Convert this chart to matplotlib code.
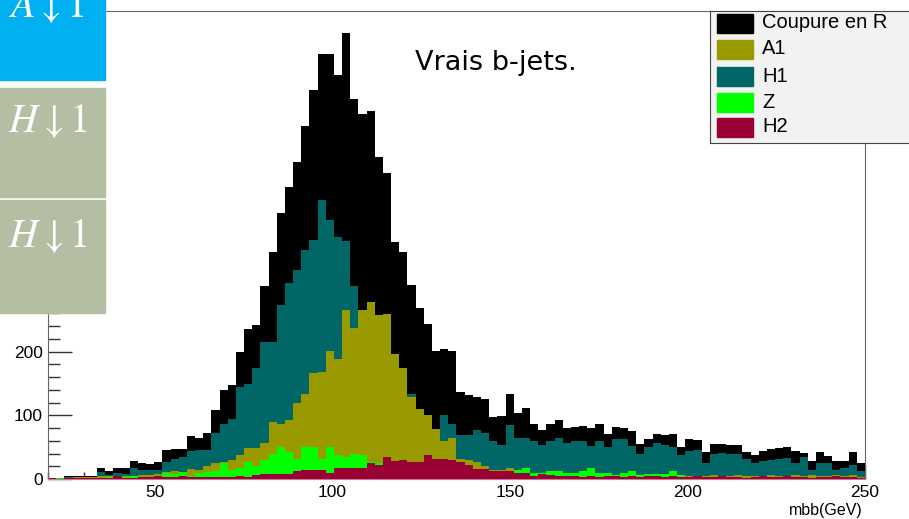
import numpy as np
import matplotlib
matplotlib.use("Agg")
import matplotlib.pyplot as plt
from matplotlib.patches import Rectangle
from matplotlib.ticker import FuncFormatter

plt.rcParams['mathtext.fontset'] = 'stix'

# mbb histograms, 100 bins from 20 to 250 GeV
edges = np.linspace(20, 250, 101)

coupure_r = [2, 2, 5, 5, 5, 5, 17, 13, 17, 17,
             29, 25, 24, 27, 46, 47, 47, 67, 65, 73,
             108, 140, 148, 200, 235, 242, 303, 356, 417, 458,
             498, 555, 611, 668, 668, 634, 700, 597, 574, 578,
             506, 481, 372, 357, 304, 268, 243, 201, 204, 201,
             136, 132, 129, 126, 98, 99, 133, 103, 111, 87,
             77, 87, 93, 80, 82, 83, 80, 86, 70, 81,
             80, 76, 55, 63, 70, 69, 71, 51, 63, 61,
             42, 55, 55, 54, 53, 43, 38, 44, 47, 48,
             50, 44, 41, 29, 42, 36, 29, 29, 42, 25]

h1 = [1, 1, 3, 3, 3, 3, 11, 6, 10, 8,
      17, 14, 14, 14, 26, 31, 35, 44, 46, 45,
      72, 86, 95, 145, 149, 175, 215, 215, 273, 308,
      328, 359, 376, 438, 407, 380, 374, 303, 250, 240,
      225, 200, 180, 160, 133, 105, 95, 75, 100, 86,
      69, 69, 77, 72, 60, 53, 85, 65, 64, 59,
      53, 60, 65, 56, 60, 59, 52, 59, 51, 63,
      63, 52, 40, 51, 56, 53, 51, 38, 44, 46,
      25, 40, 41, 39, 40, 32, 25, 29, 30, 32,
      33, 25, 35, 14, 25, 25, 14, 17, 22, 13]

a1 = [1, 1, 2, 3, 3, 3, 4, 4, 5, 5,
      5, 6, 6, 8, 11, 12, 10, 15, 14, 21,
      25, 27, 30, 38, 49, 48, 56, 90, 86, 92,
      120, 134, 166, 168, 201, 189, 265, 237, 265, 278,
      257, 259, 197, 175, 129, 110, 100, 78, 59, 64,
      32, 30, 27, 20, 14, 14, 18, 13, 10, 6,
      5, 4, 4, 5, 4, 4, 3, 4, 4, 4,
      5, 4, 4, 3, 4, 4, 5, 4, 4, 5,
      5, 6, 5, 5, 6, 4, 5, 5, 6, 5,
      5, 6, 4, 6, 5, 5, 6, 5, 6, 3]

z = [1, 1, 1, 2, 2, 2, 2, 3, 2, 3,
     4, 3, 3, 4, 9, 8, 11, 5, 9, 11,
     12, 25, 14, 17, 27, 20, 30, 40, 51, 43,
     31, 50, 50, 31, 51, 38, 35, 40, 38, 27,
     25, 10, 9, 9, 8, 8, 9, 8, 8, 7,
     7, 6, 6, 6, 5, 5, 6, 14, 18, 10,
     10, 13, 12, 10, 10, 12, 17, 10, 9, 6,
     9, 13, 6, 8, 8, 8, 13, 6, 3, 3,
     3, 3, 2, 3, 2, 2, 3, 2, 2, 3,
     2, 2, 2, 2, 3, 2, 2, 2, 2, 2]

h2 = [1, 0, 1, 1, 2, 2, 2, 1, 4, 2,
      2, 3, 3, 4, 3, 3, 4, 3, 3, 3,
      3, 3, 3, 4, 3, 6, 8, 8, 8, 8,
      12, 14, 14, 14, 10, 17, 17, 17, 17, 25,
      22, 35, 28, 30, 27, 26, 38, 31, 31, 30,
      26, 22, 16, 16, 13, 12, 13, 9, 9, 5,
      8, 7, 4, 4, 4, 3, 4, 3, 5, 4,
      3, 5, 3, 4, 4, 3, 4, 3, 3, 5,
      3, 3, 4, 3, 3, 2, 3, 5, 3, 3,
      4, 3, 3, 2, 3, 3, 4, 3, 3, 2]

labels = ["Coupure en R", "A1", "H1", "Z", "H2"]
colors = {"Coupure en R": "#000000", "A1": "#999900", "H1": "#006666",
          "Z": "#00ff00", "H2": "#990033"}

W, H = 909, 519
fig = plt.figure(figsize=(W / 100, H / 100), dpi=100)

# main pad (pixel box 48..865 x 11..479)
ax = fig.add_axes([48 / W, 1 - 479 / H, 817 / W, 468 / H])
ax.set_axisbelow(True)

# overlaid, drawn back to front
for name, vals in [("Coupure en R", coupure_r), ("H1", h1), ("A1", a1),
                   ("Z", z), ("H2", h2)]:
    ax.stairs(vals, edges, fill=True, color=colors[name], linewidth=0)

ax.set_xlim(20, 250)
ax.set_ylim(0, 735)
ax.set_xticks([50, 100, 150, 200, 250])
ax.set_xticks(np.arange(20, 251, 10), minor=True)
ax.set_yticks(np.arange(0, 701, 100))
ax.set_yticks(np.arange(0, 735, 20), minor=True)
# upper labels sit under the slide tiles, leave them blank
ax.yaxis.set_major_formatter(FuncFormatter(lambda v, p: f"{v:.0f}" if v < 250 else ""))
ax.tick_params(axis='y', which='major', direction='in', length=17.3, width=1,
               color='#333333', pad=3.6, labelsize=12.5)
ax.tick_params(axis='y', which='minor', direction='in', length=8.6, width=1,
               color='#333333')
ax.tick_params(axis='x', which='major', direction='in', length=10, width=1,
               color='#333333', pad=4.3, labelsize=12.5)
ax.tick_params(axis='x', which='minor', direction='in', length=5, width=1,
               color='#333333')
for lab in ax.get_xticklabels() + ax.get_yticklabels():
    lab.set_fontfamily('Liberation Sans')
for side in ['left', 'top', 'right']:
    ax.spines[side].set_color('#666666')
ax.spines['bottom'].set_color('#c87a95')

fig.text(863 / W, 1 - 510 / H, "mbb(GeV)", ha='right', va='center',
         fontsize=11.5, family='Liberation Sans')
fig.text(415 / W, 1 - 70 / H, "Vrais b-jets.", ha='left', va='baseline',
         fontsize=19.5, family='DejaVu Sans')

# legend box
lg = fig.add_axes([710 / W, 1 - 143 / H, 220 / W, 132 / H])
lg.set_xlim(710, 930)
lg.set_ylim(143, 11)
lg.set_facecolor('#f2f2f2')
lg.set_xticks([])
lg.set_yticks([])
for s in lg.spines.values():
    s.set_color('#444444')
rows = [23, 49, 76, 102, 127]
for name, yc in zip(labels, rows):
    lg.add_patch(Rectangle((717, yc - 9.5), 36, 19, color=colors[name]))
    lg.text(762, yc, name, va='center', ha='left', fontsize=14.5,
            family='Liberation Sans')

# slide tiles over the upper left corner
tiles = fig.add_axes([0, 0, 1, 1], facecolor='none')
tiles.set_xlim(0, W)
tiles.set_ylim(H, 0)
tiles.axis('off')
tiles.add_patch(Rectangle((0, 0), 104.5, 313, color='white'))
tiles.add_patch(Rectangle((0, -30), 104.5, 110, color='#00b0f0'))
tiles.add_patch(Rectangle((0, 88), 104.5, 109, color='#b3bea2'))
tiles.add_patch(Rectangle((0, 200), 104.5, 113, color='#b3bea2'))
tiles.text(8, 17, r'$A{\downarrow}1$', color='white', fontsize=29, va='baseline')
tiles.text(8, 132, r'$H{\downarrow}1$', color='white', fontsize=29, va='baseline')
tiles.text(8, 247, r'$H{\downarrow}1$', color='white', fontsize=29, va='baseline')

fig.savefig("out.png", dpi=100)
